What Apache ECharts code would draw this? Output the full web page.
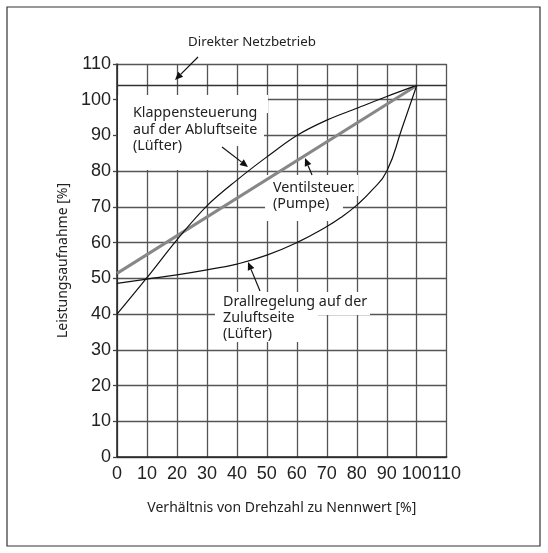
<!DOCTYPE html>
<html><head><meta charset="utf-8">
<script src="https://cdn.jsdelivr.net/npm/echarts@6/dist/echarts.min.js"></script>
<style>html,body{margin:0;padding:0;background:#fff}#c{width:548px;height:553px}</style>
</head><body><div id="c"></div>
<script>
// ---- data ----
const xTicks = [0,10,20,30,40,50,60,70,80,90,100,110];
const yTicks = [0,10,20,30,40,50,60,70,80,90,100,110];
const direktX = [0, 110];
const direktY = [104, 104];
const ventilX = [0, 100];
const ventilY = [51.4, 104];
const klappenX = [0,10,20,30,40,50,60,70,80,90,100];
const klappenY = [40,50.2,60.8,70.3,77.5,84,90,94.3,97.6,100.9,104];
const drallX = [0,10,20,30,40,50,60,70,75,80,85,90,95,100];
const drallY = [48.6,49.8,51,52.4,54,56.5,60,64.5,67.2,70.5,74.6,80,91.8,104];

const pairs = (xs, ys) => xs.map((x, i) => [x, ys[i]]);

const chart = echarts.init(document.getElementById('c'), null, {renderer: 'canvas'});
const TXT = '#222';

function txt(x, y, text, align, valign, lh, size) {
  return {type: 'text', x: x, y: y, z: 10,
    style: {text: text, font: (size || 14.3) + 'px "Noto Sans"', fill: TXT,
      textAlign: align, align: align, textVerticalAlign: valign, verticalAlign: valign,
      lineHeight: lh || 16.5}};
}
function mask(x, y, w, h) {
  return {type: 'rect', z: 1, shape: {x: x, y: y, width: w, height: h}, style: {fill: '#fff'}};
}
function arrow(x1, y1, x2, y2) {
  const a = Math.atan2(y2 - y1, x2 - x1), L = 8, W = 3.5;
  const bx = x2 - L * Math.cos(a), by = y2 - L * Math.sin(a);
  return [
    {type: 'line', z: 10, shape: {x1: x1, y1: y1, x2: bx, y2: by}, style: {stroke: '#111', lineWidth: 1.2}},
    {type: 'polygon', z: 10, shape: {points: [[x2, y2],
      [bx + W * Math.sin(a), by - W * Math.cos(a)],
      [bx - W * Math.sin(a), by + W * Math.cos(a)]]}, style: {fill: '#111'}}
  ];
}

const graphics = [
  {type: 'rect', z: 0, shape: {x: 7, y: 7, width: 533, height: 539}, style: {fill: 'none', stroke: '#333', lineWidth: 1.2}},
  mask(118, 95, 150, 18), mask(118, 113, 146, 33), mask(118, 146, 107, 24),
  mask(215, 292, 155, 23), mask(215, 315, 103, 27),
  mask(265, 175, 93, 21), mask(265, 196, 78, 25),
  txt(252, 42, 'Direkter Netzbetrieb', 'center', 'middle', 16, 13.3),
  txt(133, 105, 'Klappensteuerung\nauf der Abluftseite\n(Lüfter)', 'left', 'top', 16.5),
  txt(273, 180, 'Ventilsteuer.\n(Pumpe)', 'left', 'top', 16),
  txt(223, 294, 'Drallregelung auf der\nZuluftseite\n(Lüfter)', 'left', 'top', 16),
  ...arrow(198, 57, 175, 80),
  ...arrow(222, 147, 248, 167),
  ...arrow(312, 175, 305, 158),
  ...arrow(260, 291, 248, 262)
];

const axisLabel = {fontFamily: '"Liberation Sans"', fontSize: 18, color: TXT};
const option = {
  animation: false,
  backgroundColor: '#fff',
  grid: {left: 117, top: 64, right: 101.3, bottom: 96, containLabel: false},
  xAxis: {
    type: 'value', min: xTicks[0], max: xTicks[xTicks.length - 1], interval: 10, z: 0,
    name: 'Verhältnis von Drehzahl zu Nennwert [%]', nameLocation: 'middle', nameGap: 44,
    nameTextStyle: {fontFamily: '"Noto Sans"', fontSize: 14, color: TXT},
    axisLine: {show: true, lineStyle: {color: '#222', width: 1.5}},
    axisTick: {show: false},
    axisLabel: Object.assign({margin: 8}, axisLabel),
    splitLine: {show: true, lineStyle: {color: '#555', width: 1.3}}
  },
  yAxis: {
    type: 'value', min: yTicks[0], max: yTicks[yTicks.length - 1], interval: 10, z: 0,
    name: 'Leistungsaufnahme [%]', nameLocation: 'middle', nameGap: 46, nameRotate: 90,
    nameTextStyle: {fontFamily: '"Noto Sans"', fontSize: 14, color: TXT},
    axisLine: {show: true, lineStyle: {color: '#222', width: 1.5}},
    axisTick: {show: true, length: 4, lineStyle: {color: '#444', width: 1.3}},
    axisLabel: Object.assign({margin: 6}, axisLabel),
    splitLine: {show: true, lineStyle: {color: '#555', width: 1.3}}
  },
  graphic: graphics,
  series: [
    {name: 'Direkter Netzbetrieb', type: 'line', z: 3, data: pairs(direktX, direktY), symbol: 'none',
     lineStyle: {color: '#333', width: 1.4}},
    {name: 'Ventilsteuer.', type: 'line', z: 3, data: pairs(ventilX, ventilY), symbol: 'none',
     lineStyle: {color: '#878787', width: 3}},
    {name: 'Klappensteuerung', type: 'line', z: 4, data: pairs(klappenX, klappenY), symbol: 'none',
     smooth: 0.35, lineStyle: {color: '#111', width: 1.2}},
    {name: 'Drallregelung', type: 'line', z: 4, data: pairs(drallX, drallY), symbol: 'none',
     smooth: 0.5, lineStyle: {color: '#111', width: 1.2}}
  ]
};
chart.setOption(option);
</script></body></html>
